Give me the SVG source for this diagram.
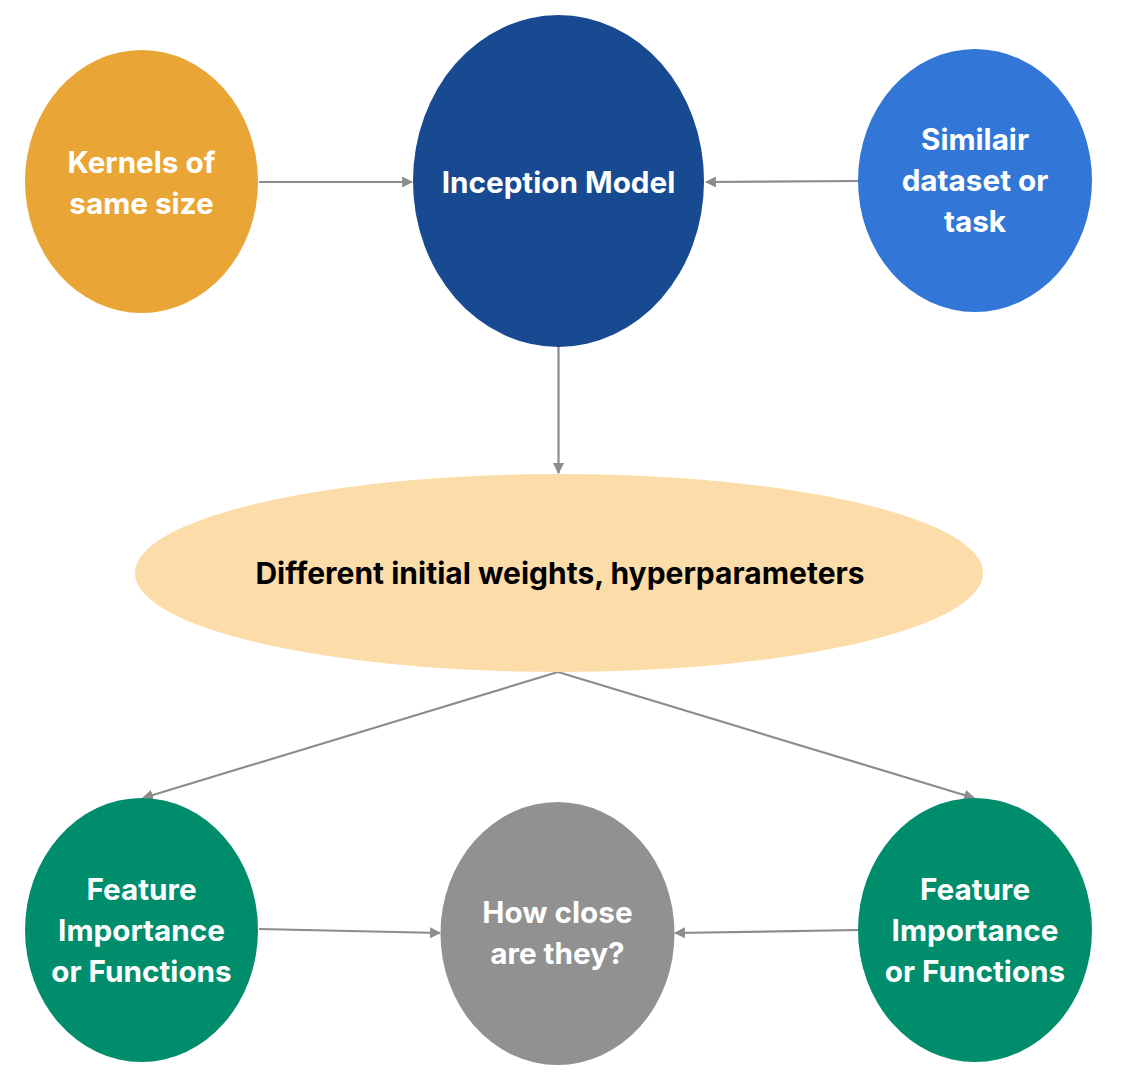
<svg xmlns="http://www.w3.org/2000/svg" width="1128" height="1080" viewBox="0 0 1128 1080">
  <style>
    .label { font-family: Inter, "Liberation Sans", sans-serif; font-weight: 700; font-size: 29.7px; text-anchor: middle; fill: #ffffff; }
    .dark { fill: #000000; font-size: 30px; }
    .conn { stroke: #8c8c8c; stroke-width: 2.2; fill: none; marker-end: url(#arrow); }
  </style>
  <defs>
    <marker id="arrow" viewBox="0 0 10 10" refX="9" refY="5" markerWidth="5" markerHeight="5" orient="auto" markerUnits="strokeWidth">
      <path d="M0,0 L10,5 L0,10 z" fill="#8c8c8c"/>
    </marker>
  </defs>
  <rect width="1128" height="1080" fill="#ffffff"/>

  <g id="connectors">
    <line class="conn" x1="259" y1="182" x2="412" y2="182"/>
    <line class="conn" x1="858" y1="181" x2="706" y2="182"/>
    <line class="conn" x1="558.5" y1="347" x2="558.5" y2="473"/>
    <line class="conn" x1="558" y1="672" x2="143" y2="798"/>
    <line class="conn" x1="558" y1="672" x2="974" y2="798"/>
    <line class="conn" x1="259" y1="929" x2="440" y2="933"/>
    <line class="conn" x1="858" y1="930" x2="675" y2="933"/>
  </g>

  <g id="kernels">
    <ellipse cx="141.5" cy="181.5" rx="116.5" ry="131.5" fill="#e9a535"/>
    <text class="label" x="141.5" y="173">Kernels of</text>
    <text class="label" x="141.5" y="214">same size</text>
  </g>

  <g id="inception">
    <ellipse cx="558.5" cy="181" rx="145.5" ry="166" fill="#174a91"/>
    <text class="label" x="558.5" y="193">Inception Model</text>
  </g>

  <g id="similar">
    <ellipse cx="975" cy="180.5" rx="117" ry="131.5" fill="#3277d8"/>
    <text class="label" x="975" y="150">Similair</text>
    <text class="label" x="975" y="191">dataset or</text>
    <text class="label" x="975" y="232">task</text>
  </g>

  <g id="weights">
    <ellipse cx="559" cy="573" rx="424" ry="99" fill="#fcdda9"/>
    <text class="label dark" x="560" y="584">Different initial weights, hyperparameters</text>
  </g>

  <g id="features-left">
    <ellipse cx="141.5" cy="930" rx="116.5" ry="132" fill="#008d6c"/>
    <text class="label" x="141.5" y="900">Feature</text>
    <text class="label" x="141.5" y="941">Importance</text>
    <text class="label" x="141.5" y="982">or Functions</text>
  </g>

  <g id="closeness">
    <ellipse cx="557.5" cy="933.5" rx="117" ry="131.5" fill="#919191"/>
    <text class="label" x="557.5" y="923">How close</text>
    <text class="label" x="557.5" y="964">are they?</text>
  </g>

  <g id="features-right">
    <ellipse cx="975" cy="930" rx="117" ry="132" fill="#008d6c"/>
    <text class="label" x="975" y="900">Feature</text>
    <text class="label" x="975" y="941">Importance</text>
    <text class="label" x="975" y="982">or Functions</text>
  </g>
</svg>
